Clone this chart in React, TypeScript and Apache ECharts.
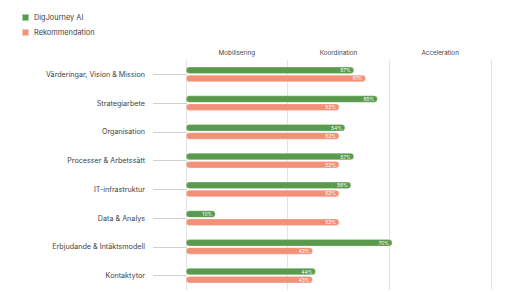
import React, { useEffect, useRef } from "react";
import * as echarts from "echarts";

const categories = [
  "Värderingar, Vision & Mission",
  "Strategiarbete",
  "Organisation",
  "Processer & Arbetssätt",
  "IT-infrastruktur",
  "Data & Analys",
  "Erbjudande & Intäktsmodell",
  "Kontaktytor",
];
const digJourney = [57, 65, 54, 57, 56, 10, 70, 44];
const rekommendation = [61, 52, 52, 52, 52, 52, 43, 43];
const phases = ["Mobilisering", "Koordination", "Acceleration"];

const FONT = "Inter, 'Noto Sans', sans-serif";

export default function App() {
  const ref = useRef<HTMLDivElement>(null);
  useEffect(() => {
    const chart = echarts.init(ref.current!, undefined, { renderer: "svg" });
    const label = {
      show: true,
      position: "insideRight",
      distance: 3,
      color: "#ffffff",
      fontSize: 5,
      fontFamily: FONT,
      formatter: "{c}%",
    };
    chart.setOption({
      animation: false,
      legend: {
        orient: "vertical",
        left: 8,
        top: 0,
        itemWidth: 7,
        itemHeight: 7,
        itemGap: 6,
        icon: "rect",
        textStyle: { fontSize: 7.4, color: "#444", fontFamily: FONT },
        data: ["DigJourney AI", "Rekommendation"],
      },
      grid: { left: 178, right: 29, top: 52, bottom: 2, containLabel: false },
      xAxis: [
        {
          type: "value",
          min: 0,
          max: 103.5,
          interval: 34.5,
          axisLabel: { show: false },
          axisLine: { show: false },
          axisTick: { show: false },
          splitLine: { show: false },
        },
        {
          type: "category",
          position: "top",
          data: phases,
          axisLine: { show: false },
          axisTick: { show: false },
          axisLabel: { fontSize: 6.3, color: "#444", fontFamily: FONT, margin: 4 },
          splitLine: { show: true, lineStyle: { color: "#e4e4e4", width: 1 } },
        },
      ],
      yAxis: {
        type: "category",
        inverse: true,
        data: categories,
        axisLine: { show: false },
        axisTick: {
          show: true,
          alignWithLabel: true,
          length: 33,
          lineStyle: { color: "#d0d0d0" },
        },
        axisLabel: { fontSize: 7.2, color: "#444", fontFamily: FONT, margin: 41 },
      },
      series: [
        {
          name: "DigJourney AI",
          type: "bar",
          xAxisIndex: 0,
          data: digJourney,
          barWidth: 7,
          barGap: "15%",
          itemStyle: {
            color: "#5a9a4c",
            borderRadius: 4,
            borderColor: "rgba(255,255,255,0.5)",
            borderWidth: 0.5,
          },
          label,
        },
        {
          name: "Rekommendation",
          type: "bar",
          xAxisIndex: 0,
          data: rekommendation,
          barWidth: 7,
          itemStyle: {
            color: "#f39077",
            borderRadius: 4,
            borderColor: "rgba(255,255,255,0.5)",
            borderWidth: 0.5,
          },
          label,
        },
      ],
    });
    return () => chart.dispose();
  }, []);
  return <div ref={ref} style={{ width: 512, height: 284 }} />;
}
